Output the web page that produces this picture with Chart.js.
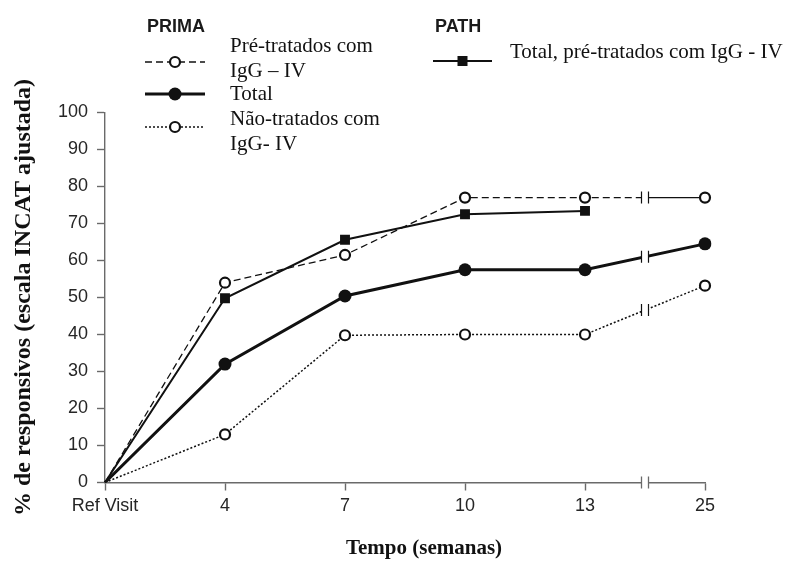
<!DOCTYPE html>
<html>
<head>
<meta charset="utf-8">
<script src="https://cdn.jsdelivr.net/npm/chart.js@4"></script>
<style>
  html, body { margin: 0; padding: 0; background: #fff; }
  #wrap { position: relative; width: 792px; height: 561px; }
</style>
</head>
<body>
<div id="wrap"><canvas id="chart"></canvas></div>
<script>
// data
const weeks = ["Ref Visit", "4", "7", "10", "13", "25"];
const primaPre = [0, 54, 61.5, 77, 77, 77];
const primaTotal = [0, 32, 50.4, 57.5, 57.5, 64.5];
const primaNao = [0, 13, 39.8, 40, 40, 53.2];
const pathTotal = [0, 49.8, 65.6, 72.5, 73.4, null];

const yTitle = "% de responsivos (escala INCAT ajustada)";
const xTitle = "Tempo (semanas)";

const axisColor = "#6a6a6a";
const tickText = "#262626";
const ink = "#111";
const sans = '"Liberation Sans", Arial, sans-serif';
const serif = '"Liberation Serif", "Times New Roman", serif';

// no marker at the reference visit, all lines just start at the origin
const radiusFrom = r => ctx => (ctx.dataIndex === 0 ? 0 : r);

// axis break between the last two categories, plus titles and the custom legend
const extrasPlugin = {
    id: "extras",
    afterDraw(chart) {
        const ctx = chart.ctx;
        const xs = chart.scales.x;
        const area = chart.chartArea;
        const xb = (xs.getPixelForValue(4) + xs.getPixelForValue(5)) / 2;

        ctx.save();
        // break on the x axis
        ctx.fillStyle = "#fff";
        ctx.fillRect(xb - 3, area.bottom - 2, 6, 4);
        ctx.strokeStyle = axisColor;
        ctx.lineWidth = 1.3;
        ctx.beginPath();
        ctx.moveTo(xb - 3.5, area.bottom - 6); ctx.lineTo(xb - 3.5, area.bottom + 6);
        ctx.moveTo(xb + 3.5, area.bottom - 6); ctx.lineTo(xb + 3.5, area.bottom + 6);
        ctx.stroke();

        // break on each line crossing it
        chart.data.datasets.forEach((ds, i) => {
            const meta = chart.getDatasetMeta(i);
            const p4 = meta.data[4], p5 = meta.data[5];
            if (ds.data[4] == null || ds.data[5] == null) return;
            const slope = (p5.y - p4.y) / (p5.x - p4.x);
            const yb = p4.y + (xb - p4.x) * slope;
            if (ds.solidAfterBreak) {
                const x0 = xb + 3.5, x1 = p5.x - 6;
                ctx.strokeStyle = "#fff";
                ctx.lineWidth = 4;
                ctx.setLineDash([]);
                ctx.beginPath();
                ctx.moveTo(x0, p4.y + (x0 - p4.x) * slope);
                ctx.lineTo(x1, p4.y + (x1 - p4.x) * slope);
                ctx.stroke();
                ctx.strokeStyle = ink;
                ctx.lineWidth = ds.borderWidth;
                ctx.beginPath();
                ctx.moveTo(x0, p4.y + (x0 - p4.x) * slope);
                ctx.lineTo(x1, p4.y + (x1 - p4.x) * slope);
                ctx.stroke();
            }
            ctx.fillStyle = "#fff";
            ctx.fillRect(xb - 3, yb - 3, 6, 6);
            ctx.strokeStyle = ink;
            ctx.lineWidth = 1.2;
            ctx.setLineDash([]);
            ctx.beginPath();
            ctx.moveTo(xb - 3.5, yb - 6); ctx.lineTo(xb - 3.5, yb + 6);
            ctx.moveTo(xb + 3.5, yb - 6); ctx.lineTo(xb + 3.5, yb + 6);
            ctx.stroke();
        });

        // axis titles
        ctx.fillStyle = ink;
        ctx.textAlign = "center";
        ctx.textBaseline = "middle";
        ctx.font = "bold 24px " + serif;
        ctx.save();
        ctx.translate(24, (area.top + area.bottom) / 2);
        ctx.rotate(-Math.PI / 2);
        ctx.fillText(yTitle, 0, 0);
        ctx.restore();
        ctx.font = "bold 21px " + serif;
        ctx.fillText(xTitle, 424, 549);

        // legend
        const sample = (x0, x1, y, width, dash, marker) => {
            ctx.strokeStyle = ink;
            ctx.lineWidth = width;
            ctx.setLineDash(dash);
            ctx.beginPath();
            ctx.moveTo(x0, y); ctx.lineTo(x1, y);
            ctx.stroke();
            ctx.setLineDash([]);
            const cx = (x0 + x1) / 2;
            if (marker === "open") {
                ctx.fillStyle = "#fff";
                ctx.lineWidth = 2.2;
                ctx.beginPath(); ctx.arc(cx, y, 5, 0, Math.PI * 2); ctx.fill(); ctx.stroke();
            } else if (marker === "dot") {
                ctx.fillStyle = ink;
                ctx.beginPath(); ctx.arc(cx, y, 6.5, 0, Math.PI * 2); ctx.fill();
            } else {
                ctx.fillStyle = ink;
                ctx.fillRect(cx - 5, y - 5, 10, 10);
            }
        };
        sample(145, 205, 62, 1.3, [7, 4], "open");
        sample(145, 205, 94, 3, [], "dot");
        sample(145, 205, 127, 1.5, [2, 2], "open");
        sample(433, 492, 61, 2, [], "square");

        ctx.fillStyle = "#1a1a1a";
        ctx.textAlign = "left";
        ctx.textBaseline = "alphabetic";
        ctx.font = "bold 18px " + sans;
        ctx.fillText("PRIMA", 147, 32);
        ctx.fillText("PATH", 435, 32);
        ctx.fillStyle = ink;
        ctx.font = "21px " + serif;
        ctx.fillText("Pré-tratados com", 230, 52);
        ctx.fillText("IgG – IV", 230, 77);
        ctx.fillText("Total", 230, 100);
        ctx.fillText("Não-tratados com", 230, 125);
        ctx.fillText("IgG- IV", 230, 150);
        ctx.fillText("Total, pré-tratados com IgG - IV", 510, 58);
        ctx.restore();
    }
};

const axisGrid = {
    drawOnChartArea: false,
    drawTicks: true,
    tickLength: 8,
    tickColor: axisColor,
    tickWidth: 1.4
};

new Chart(document.getElementById("chart"), {
    type: "line",
    data: {
        labels: weeks,
        datasets: [
            {
                label: "PRIMA Pré-tratados com IgG – IV",
                data: primaPre,
                borderColor: ink,
                borderWidth: 1.3,
                borderDash: [7, 4],
                pointStyle: "circle",
                pointRadius: radiusFrom(5),
                pointBorderWidth: 2.2,
                pointBackgroundColor: "#fff",
                pointBorderColor: ink,
                solidAfterBreak: true
            },
            {
                label: "PATH Total, pré-tratados com IgG - IV",
                data: pathTotal,
                borderColor: ink,
                borderWidth: 2,
                pointStyle: "rect",
                pointRadius: radiusFrom(7),
                pointBorderWidth: 0,
                pointBackgroundColor: ink,
                pointBorderColor: ink
            },
            {
                label: "PRIMA Total",
                data: primaTotal,
                borderColor: ink,
                borderWidth: 3,
                pointStyle: "circle",
                pointRadius: radiusFrom(6.5),
                pointBorderWidth: 0,
                pointBackgroundColor: ink,
                pointBorderColor: ink
            },
            {
                label: "PRIMA Não-tratados com IgG- IV",
                data: primaNao,
                borderColor: ink,
                borderWidth: 1.5,
                borderDash: [2, 2],
                pointStyle: "circle",
                pointRadius: radiusFrom(5),
                pointBorderWidth: 2.2,
                pointBackgroundColor: "#fff",
                pointBorderColor: ink
            }
        ]
    },
    options: {
        responsive: true,
        maintainAspectRatio: false,
        animation: false,
        layout: {
            padding: { left: 0, right: 87, top: 112.5, bottom: 0 }
        },
        plugins: {
            legend: { display: false },
            title: { display: false },
            tooltip: { enabled: false }
        },
        scales: {
            x: {
                offset: false,
                grid: axisGrid,
                border: { display: true, color: axisColor, width: 1.4 },
                ticks: {
                    color: tickText,
                    font: { family: sans, size: 18 },
                    padding: 5,
                    maxRotation: 0,
                    autoSkip: false
                },
                afterFit(scale) { scale.height = 78.5; }
            },
            y: {
                min: 0,
                max: 100,
                grid: axisGrid,
                border: { display: true, color: axisColor, width: 1.4 },
                ticks: {
                    stepSize: 10,
                    color: tickText,
                    font: { family: sans, size: 18 },
                    padding: 9
                },
                afterFit(scale) { scale.width = 105; }
            }
        }
    },
    plugins: [extrasPlugin]
});
</script>
</body>
</html>
